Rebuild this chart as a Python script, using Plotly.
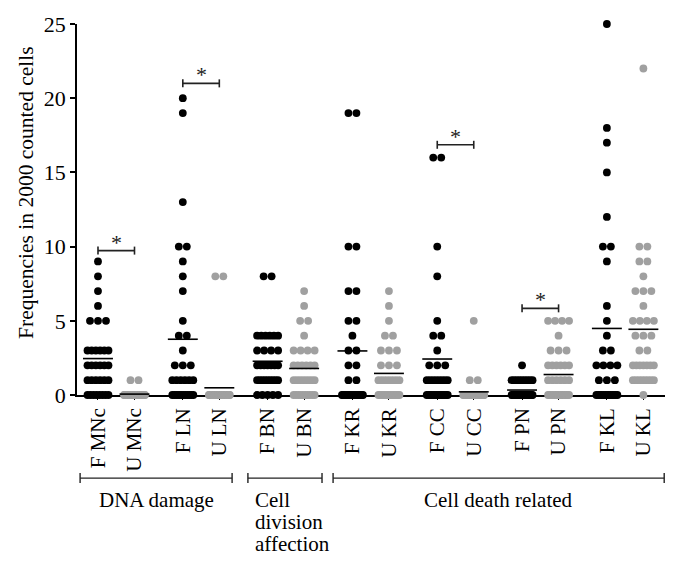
import plotly.graph_objects as go

# ---------------- data ----------------
categories = ["F MNc", "U MNc", "F LN", "U LN", "F BN", "U BN", "F KR", "U KR",
              "F CC", "U CC", "F PN", "U PN", "F KL", "U KL"]

# value -> number of cells (dots) at that value
F_MNc = {9: 1, 8: 1, 7: 1, 6: 1, 5: 3, 3: 6, 2: 6, 1: 6, 0: 8}
U_MNc = {1: 2, 0: 31}
F_LN = {20: 1, 19: 1, 13: 1, 10: 2, 9: 1, 8: 1, 7: 1, 5: 1, 4: 2, 3: 1, 2: 3, 1: 6, 0: 12}
U_LN = {8: 2, 0: 31}
F_BN = {8: 2, 4: 6, 3: 4, 2: 7, 1: 9, 0: 5}
U_BN = {7: 1, 6: 1, 5: 2, 4: 1, 3: 4, 2: 6, 1: 8, 0: 10}
F_KR = {19: 2, 10: 2, 7: 2, 5: 2, 4: 1, 3: 2, 2: 2, 1: 2, 0: 18}
U_KR = {7: 1, 6: 1, 5: 1, 4: 2, 3: 3, 2: 3, 1: 7, 0: 15}
F_CC = {16: 2, 10: 1, 8: 1, 5: 1, 4: 2, 3: 1, 2: 3, 1: 8, 0: 14}
U_CC = {5: 1, 1: 2, 0: 30}
F_PN = {2: 1, 1: 9, 0: 23}
U_PN = {5: 4, 4: 1, 3: 3, 2: 6, 1: 6, 0: 17}
F_KL = {25: 1, 18: 1, 17: 1, 15: 1, 12: 1, 10: 2, 9: 1, 6: 1, 5: 1, 4: 1, 3: 2, 2: 4, 1: 3, 0: 13}
U_KL = {22: 1, 10: 2, 9: 2, 8: 1, 7: 3, 6: 1, 5: 4, 4: 3, 3: 2, 2: 7, 1: 8, 0: 1}

series = [F_MNc, U_MNc, F_LN, U_LN, F_BN, U_BN, F_KR, U_KR,
          F_CC, U_CC, F_PN, U_PN, F_KL, U_KL]

# significance brackets: (left category, right category, height)
sig_left = ["F MNc", "F LN", "F CC", "F PN"]
sig_right = ["U MNc", "U LN", "U CC", "U PN"]
sig_height = [9.73, 21.0, 16.86, 5.84]

# group labels below the axis
group_names = ["DNA damage", "Cell division affection", "Cell death related"]
group_first = ["F MNc", "F BN", "F KR"]
group_last = ["U LN", "U BN", "U KL"]

y_ticks = [0, 5, 10, 15, 20, 25]
y_title = "Frequencies in 2000 counted cells"

# ---------------- layout helpers ----------------
PAIR_GAP = 2.323          # distance between pairs (in units of F->U distance)
FONT = "Liberation Serif"
BLACK = "#000000"
GREY = "#a0a0a0"

pos = {}
for i, c in enumerate(categories):
    pos[c] = (i // 2) * PAIR_GAP + (i % 2)

DOT_STEP = 0.219          # one dot diameter in x units
MAX_SPAN = 0.575          # maximum spread of a row

fig = go.Figure()

for c, counts in zip(categories, series):
    xs, ys = [], []
    for v, n in counts.items():
        step = DOT_STEP if n <= 1 else min(DOT_STEP, MAX_SPAN / (n - 1))
        for k in range(n):
            xs.append(pos[c] + (k - (n - 1) / 2) * step)
            ys.append(v)
    color = BLACK if c.startswith("F") else GREY
    fig.add_trace(go.Scatter(x=xs, y=ys, mode="markers",
                             marker=dict(size=7.8, color=color, line=dict(width=0)),
                             cliponaxis=False, showlegend=False, hoverinfo="skip"))
    total = sum(counts.values())
    mean = sum(v * n for v, n in counts.items()) / total
    fig.add_trace(go.Scatter(x=[pos[c] - 0.41, pos[c] + 0.41], y=[mean, mean], mode="lines",
                             line=dict(color=BLACK, width=1.6),
                             cliponaxis=False, showlegend=False, hoverinfo="skip"))

shapes = []
annotations = []
CAP = 0.27
for l, r, h in zip(sig_left, sig_right, sig_height):
    x0, x1 = pos[l], pos[r]
    for (ax, ay, bx, by) in [(x0, h, x1, h), (x0, h - CAP, x0, h + CAP), (x1, h - CAP, x1, h + CAP)]:
        shapes.append(dict(type="line", xref="x", yref="y", x0=ax, y0=ay, x1=bx, y1=by,
                           line=dict(color="#222222", width=1.6)))
    annotations.append(dict(x=(x0 + x1) / 2, y=h, xref="x", yref="y", text="*",
                            showarrow=False, yanchor="bottom", yshift=-6,
                            font=dict(family=FONT, size=22, color="#222222")))

# group brackets below the axis (paper y)
GB_Y = -0.224
GB_CAP = 0.0135
x_pad_left = [0.49, 0.54, 0.53]
x_pad_right = [0.35, 0.49, 0.57]
for name, a, b, pl, pr in zip(group_names, group_first, group_last, x_pad_left, x_pad_right):
    x0, x1 = pos[a] - pl, pos[b] + pr
    for (ax, ay, bx, by) in [(x0, GB_Y, x1, GB_Y), (x0, GB_Y - GB_CAP, x0, GB_Y + GB_CAP),
                             (x1, GB_Y - GB_CAP, x1, GB_Y + GB_CAP)]:
        shapes.append(dict(type="line", xref="x", yref="paper", x0=ax, y0=ay, x1=bx, y1=by,
                           line=dict(color="#222222", width=1.4)))
    if name == "Cell division affection":
        for j, word in enumerate(name.split(" ")):
            annotations.append(dict(x=x0 + 0.14, y=GB_Y - 0.022 - j * 0.0587, xref="x", yref="paper",
                                    text=word, showarrow=False, xanchor="left", yanchor="top",
                                    font=dict(family=FONT, size=21, color=BLACK)))
    else:
        annotations.append(dict(x=(x0 + x1) / 2, y=GB_Y - 0.022, xref="x", yref="paper",
                                text=name, showarrow=False, xanchor="center", yanchor="top",
                                font=dict(family=FONT, size=21, color=BLACK)))

annotations.append(dict(x=-0.087, y=0.547, xref="paper", yref="paper", text=y_title,
                        textangle=-90, showarrow=False, xanchor="center", yanchor="middle",
                        font=dict(family=FONT, size=21.5, color=BLACK)))

fig.update_layout(
    width=680, height=551,
    margin=dict(l=77, r=15, t=20, b=156),
    plot_bgcolor="white", paper_bgcolor="white",
    font=dict(family=FONT, size=20, color=BLACK),
    shapes=shapes, annotations=annotations,
    xaxis=dict(range=[-0.575, 15.53], tickmode="array",
               tickvals=[pos[c] for c in categories], ticktext=categories,
               tickangle=-90, ticks="outside", ticklen=3, tickwidth=1.2, tickcolor=BLACK,
               showline=True, linecolor=BLACK, linewidth=1.6, showgrid=False, zeroline=False,
               layer="below traces", tickfont=dict(family=FONT, size=21, color=BLACK)),
    yaxis=dict(range=[0, 25], tickmode="array", tickvals=y_ticks,
               ticks="outside", ticklen=5, tickwidth=1.6, tickcolor=BLACK,
               showline=True, linecolor=BLACK, linewidth=1.6, showgrid=False, zeroline=False,
               layer="below traces", tickfont=dict(family=FONT, size=22, color=BLACK)),
)

fig.write_html("out.html", config={"displayModeBar": False},
               post_script="document.body.style.margin='0px';")
